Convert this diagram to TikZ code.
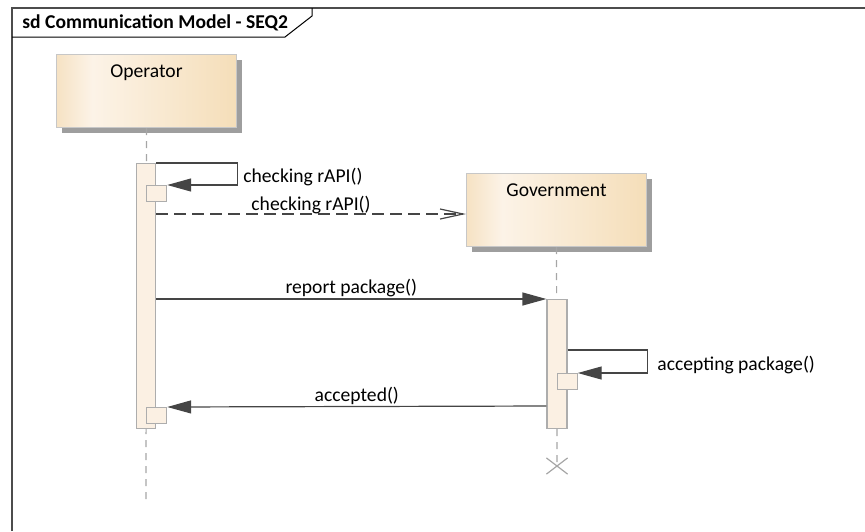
\documentclass[tikz,border=0pt]{standalone}
\usepackage{fontspec}
\setmainfont{Carlito}
\usetikzlibrary{arrows.meta, positioning, shadows, shapes.misc}

\definecolor{boxL}{HTML}{F6E2C4}
\definecolor{boxM}{HTML}{FCF3E7}
\definecolor{boxR}{HTML}{F5DEB9}
\definecolor{barfill}{HTML}{FBF0E3}
\definecolor{msgcol}{HTML}{454545}
\pgfdeclarehorizontalshading{lifebox}{100bp}{color(0bp)=(boxL); color(25bp)=(boxL); color(35bp)=(boxM); color(75bp)=(boxR); color(100bp)=(boxR)}

\begin{document}
\begin{tikzpicture}[x=0.5pt,y=-0.5pt,>={Triangle[length=12pt,width=6.5pt]},
                    font=\fontsize{9.8pt}{12}\selectfont]
\tikzstyle{life}=[draw=black!22,line width=0.6pt,shading=lifebox,
                  minimum width=90pt,minimum height=36.5pt,inner sep=0pt,
                  drop shadow={shadow xshift=2.6pt,shadow yshift=-2.6pt,fill=black!38,opacity=1}]
\tikzstyle{bar}=[draw=black!32,fill=barfill,line width=0.6pt,minimum width=9.5pt,inner sep=0pt]
\tikzstyle{exe}=[draw=black!32,fill=barfill,line width=0.6pt,minimum width=10pt,minimum height=8pt,inner sep=0pt,anchor=north west]
\tikzstyle{lline}=[draw=black!35,line width=0.6pt,dash pattern=on 3.5pt off 3pt]
\tikzstyle{msg}=[draw=msgcol,line width=0.6pt]

  \useasboundingbox (0,0) rectangle (865,531);

        % frame
        \draw[black!70, line width=1pt] (12,531) -- (12,8) -- (865,8);
        \node[anchor=west,inner sep=0pt,font=\fontsize{9.8pt}{12}\bfseries] (T) at (22,23) {sd Communication Model - SEQ2};
        \draw[line width=0.5pt] (12,37) -- (285,37) -- (312,16) -- (312,8);

        % lifelines
        \node[life] (O) at (146.5,91) {};
        \node[inner sep=0pt] (Ol) [below=5pt of O.north] {Operator};
        \node[life] (G) at (556.5,210) {};
        \node[inner sep=0pt] (Gl) [below=5pt of G.north] {Government};

        \node[draw=black!35,cross out,line width=0.6pt,minimum width=10pt,minimum height=7.5pt,inner sep=0pt] (X) at (557,466) {};
        \coordinate (E) at (146,505);

        \path[lline] (O.south) -- (E);
        \path[lline] (G.south) -- (X.center);

        % activations
        \node[bar,minimum height=132.5pt,anchor=north] (ob) at (146,163) {};
        \node[bar,minimum width=10pt,minimum height=64.5pt,anchor=north] (gb) at (557,299) {};
        \node[exe] (s1) at (146,185) {};
        \node[exe] (s2) at (146,407) {};
        \node[exe] (s3) at (556.5,373) {};

        \coordinate (m1) at (0,214);
        \coordinate (m2) at (0,350);
        \coordinate (m3) at (0,406);

        % messages
        \draw[msg,->] (ob.north east) -- ++(81,0) |- (s1.north east);
        \node[anchor=west,inner sep=0pt] (l1) at (243,177) {checking rAPI()};

        \draw[msg,dashed,dash pattern=on 6pt off 3pt,-{Straight Barb[length=11.5pt,width=5pt]}] (ob.east |- m1) -- (G.west |- m1)
             node[midway,above=0pt,inner sep=0pt] (l2) {checking rAPI()};

        \draw[msg,->] (ob.east |- gb.north) -- (gb.north west)
             node[midway,above=0.8pt,inner sep=0pt] (l3) {report package()};

        \draw[msg,->] (gb.east |- m2) -- ++(80,0) |- (s3.north east);
        \node[anchor=west,inner sep=0pt] (l4) at (657,365) {accepting package()};

        \draw[msg,->] (gb.west |- m3) -- (s2.north east)
             node[midway,above=0.8pt,inner sep=0pt] (l5) {accepted()};

\end{tikzpicture}
\end{document}
